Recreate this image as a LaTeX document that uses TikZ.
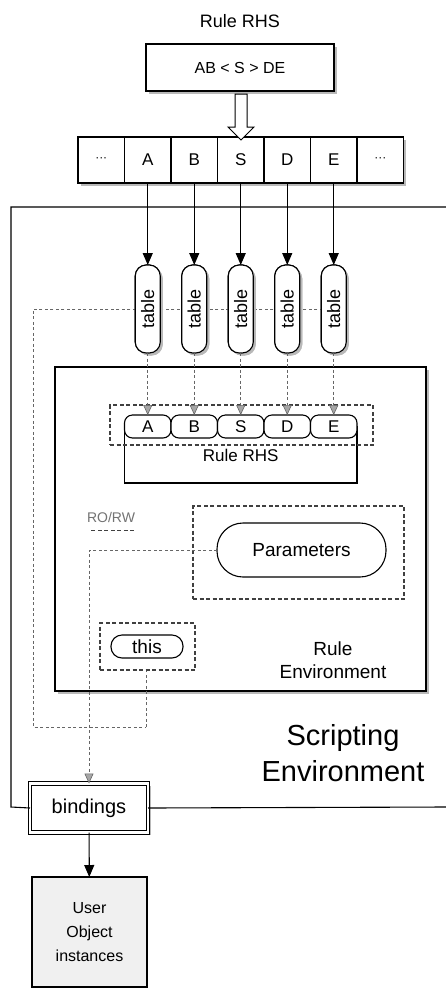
\documentclass[tikz,border=0pt]{standalone}
\usepackage{fontspec}
\setmainfont{Liberation Sans}
\usetikzlibrary{positioning, arrows.meta, shadows, shapes.arrows}

\begin{document}
\begin{tikzpicture}[x=1pt,y=-1pt,>={Triangle[length=12pt,width=10pt]},line width=1.1pt,
    box/.style={draw,fill=white,inner sep=0pt,outer sep=0pt,font=\fontsize{17}{20}\selectfont},
    shade/.style={drop shadow={shadow xshift=2.5pt,shadow yshift=-2.5pt,fill=gray!55,opacity=1}},
    cell/.style={box,minimum width=46.5pt,minimum height=46pt},
    tbl/.style={box,shade,rotate=90,rounded corners=11pt,minimum width=88pt,minimum height=25pt,font=\fontsize{18}{20}\selectfont},
    sym/.style={box,rounded corners=8pt,minimum width=46.5pt,minimum height=23pt},
    pill/.style={box,font=\fontsize{19}{22}\selectfont},
    group/.style={draw=black!75,line width=1.6pt,dash pattern=on 4pt off 2.5pt},
    link/.style={draw=black!60,line width=0.6pt,dash pattern=on 3pt off 2.5pt},
    linkhead/.style={-{Triangle[length=10pt,width=9pt,fill=gray!70,color=black!60,line width=0.6pt]}},
    lbl/.style={align=center,inner sep=0pt}]

\useasboundingbox (0,0) rectangle (446,989);

% scripting environment frame
\coordinate (fr1) at (446,207);
\coordinate (fr2) at (11,207);
\coordinate (fr3) at (11,807);
\coordinate (fr4) at (446,807);

% rule rhs on top
\node[lbl,font=\fontsize{18}{20}\selectfont] (title) at (240,21) {Rule RHS};
\node[box,shade,minimum width=188pt,minimum height=47pt,font=\fontsize{16}{20}\selectfont] (rhs) at (240,67.5) {AB < S > DE};

% string of symbols
\node[cell,shade] (c0) at (101.25,160) {\fontsize{12}{14}\selectfont ···};
\node[cell,shade] (cA) [right=0pt of c0] {A};
\node[cell,shade] (cB) [right=0pt of cA] {B};
\node[cell,shade] (cS) [right=0pt of cB] {S};
\node[cell,shade] (cD) [right=0pt of cS] {D};
\node[cell,shade] (cE) [right=0pt of cD] {E};
\node[cell,shade] (c6) [right=0pt of cE] {\fontsize{12}{14}\selectfont ···};

\node[single arrow,draw,fill=white,shape border rotate=270,minimum height=46pt,
      single arrow head extend=7pt,inner sep=5.5pt,line width=1pt] (push) at (241,114) {};

% rule environment
\node[box,shade,minimum width=371pt,minimum height=324pt] (renv) at (240.5,529) {};
\node[lbl,font=\fontsize{19}{23}\selectfont] (renvlbl) at (333,660) {Rule\\Environment};

\node[lbl,font=\fontsize{29}{36}\selectfont] (senv) at (343,753) {Scripting\\Environment};

% dashed scope lines
\coordinate (lc) at (33,727);
\coordinate (jn) at (146,727);

% tables
\node[tbl] (tA) at (147.75,309) {};
\node[tbl] (tB) at (194.25,309) {};
\node[tbl] (tS) at (240.75,309) {};
\node[tbl] (tD) at (287.25,309) {};
\node[tbl] (tE) at (333.75,309) {};

\draw[link] (tE.center) -| (lc) -- (jn);

\node[tbl] at (tA) {table};
\node[tbl] at (tB) {table};
\node[tbl] at (tS) {table};
\node[tbl] at (tD) {table};
\node[tbl] at (tE) {table};

\path[->]
(cA) edge (tA)
(cB) edge (tB)
(cS) edge (tS)
(cD) edge (tD)
(cE) edge (tE)
;

% rule rhs inside
\node[box,minimum width=232.5pt,minimum height=56pt] (rrhs) at (240.75,455) {Rule RHS};
\node[group,minimum width=263pt,minimum height=40pt] (grp) at (241.5,425) {};
\node[sym] (sA) at (147.75,426.5) {A};
\node[sym] (sB) [right=0pt of sA] {B};
\node[sym] (sS) [right=0pt of sB] {S};
\node[sym] (sD) [right=0pt of sS] {D};
\node[sym] (sE) [right=0pt of sD] {E};

\path[link,linkhead]
(tA) edge (sA)
(tB) edge (sB)
(tS) edge (sS)
(tD) edge (sD)
(tE) edge (sE)
;

% legend
\node[lbl,text=black!55,font=\fontsize{14}{16}\selectfont] (rorw) at (111,517) {RO/RW};
\draw[group,line width=1.3pt] ([yshift=-8pt,xshift=5pt]rorw.south west) -- ([yshift=-8pt]rorw.south east);

% parameters and this
\node[group,minimum width=211pt,minimum height=93pt] (parbox) at (298.5,552.5) {};
\node[pill,rounded corners=26pt,minimum width=169pt,minimum height=54pt] (par) at (301.5,550) {Parameters};
\node[group,minimum width=95pt,minimum height=47pt] (thisbox) at (147.5,646.5) {};
\node[pill,rounded corners=11pt,minimum width=72pt,minimum height=23pt] (this) at (147,646.5) {this};

\draw[link] (jn) -- (thisbox.south -| jn);

% bindings
\node[box,shade,double,double distance=2.5pt,line width=0.9pt,minimum width=118pt,minimum height=49pt,
      font=\fontsize{20}{24}\selectfont] (bind) at (89,808) {bindings};
\node[box,fill=gray!12,minimum width=115pt,minimum height=110pt,align=center,
      font=\fontsize{16}{24}\selectfont] (user) at (89.5,932) {User\\Object\\instances};

\draw[link,linkhead] (par.west) -| (bind.north);
\draw (fr1) -- (fr2) -- (fr3) -- (bind.west);
\draw (bind.east) -- (fr4);
\draw[->] (bind) -- (user);
\end{tikzpicture}
\end{document}
